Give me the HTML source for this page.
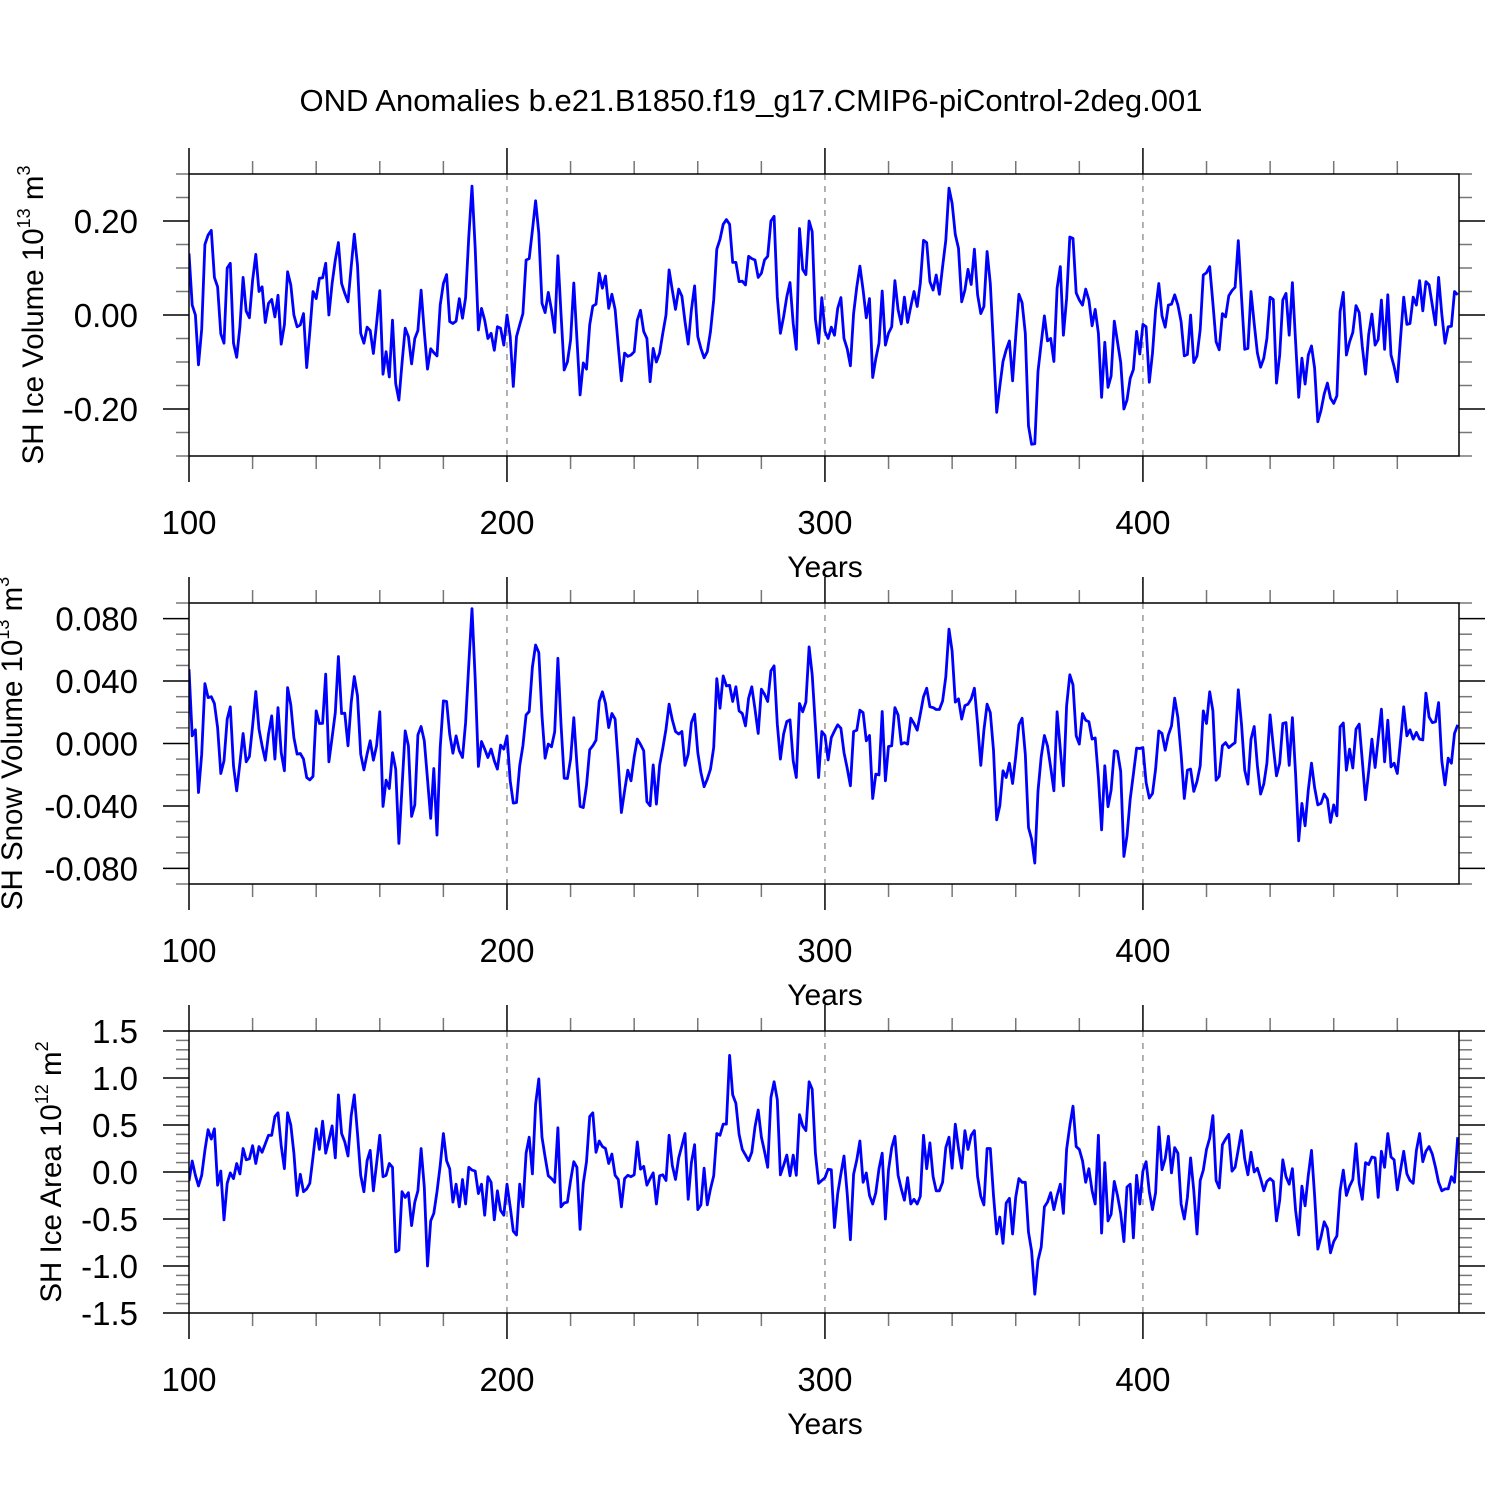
<!DOCTYPE html>
<html><head><meta charset="utf-8"><style>
html,body{margin:0;padding:0;background:#fff;}
svg{display:block;font-family:"Liberation Sans",Arial,sans-serif;}
</style></head><body>
<svg id="fig" width="1500" height="1500" viewBox="0 0 1500 1500" xmlns="http://www.w3.org/2000/svg">
<rect width="1500" height="1500" fill="#fff"/>
<text x="751" y="111" font-size="31" text-anchor="middle">OND Anomalies b.e21.B1850.f19_g17.CMIP6-piControl-2deg.001</text>
</svg>
<script>
const years0 = 100;
const xTickLabels = ["100","200","300","400"];
const xTickValues = [100,200,300,400];
const iceVolume = [0.131,0.021,0.0,-0.106,-0.03,0.15,0.17,0.18,0.08,0.06,-0.04,-0.06,0.10,0.11,-0.06,-0.09,-0.025,0.08,0.008,-0.006,0.074,0.129,0.05,0.06,-0.016,0.025,0.033,-0.004,0.042,-0.062,-0.021,0.092,0.064,0.0,-0.025,-0.021,0.003,-0.112,-0.036,0.05,0.035,0.078,0.079,0.11,0.0,0.067,0.117,0.154,0.067,0.046,0.028,0.103,0.172,0.106,-0.039,-0.06,-0.026,-0.033,-0.082,-0.018,0.052,-0.126,-0.078,-0.132,-0.011,-0.146,-0.181,-0.103,-0.028,-0.046,-0.104,-0.05,-0.033,0.053,-0.036,-0.115,-0.072,-0.08,-0.087,0.021,0.067,0.086,-0.014,-0.018,-0.013,0.035,-0.007,0.037,0.167,0.274,0.142,-0.032,0.014,-0.011,-0.05,-0.039,-0.075,-0.025,-0.028,-0.064,0.0,
-0.046,-0.152,-0.046,-0.021,0.003,0.117,0.12,0.18,0.243,0.174,0.025,0.005,0.048,0.011,-0.037,0.126,0.003,-0.117,-0.1,-0.053,0.068,-0.05,-0.17,-0.102,-0.115,-0.021,0.019,0.023,0.089,0.057,0.083,0.014,0.044,
0.012,-0.067,-0.14,-0.081,-0.088,-0.085,-0.078,-0.011,0.01,-0.035,-0.05,-0.142,-0.071,-0.1,-0.081,-0.039,0.0,0.096,0.053,0.012,0.055,0.04,-0.014,-0.062,0.011,0.062,-0.046,-0.071,-0.091,-0.078,-0.035,0.032,0.14,0.161,0.193,0.203,0.193,0.112,0.112,0.071,0.072,0.064,0.125,0.12,0.117,0.08,0.089,0.117,0.125,0.2,0.21,0.039,-0.039,-0.004,0.039,0.069,-0.018,-0.073,0.184,0.097,0.086,0.2,0.177,-0.009,-0.06,0.037,-0.035,-0.05,-0.026,-0.043,0.014,0.037,-0.05,-0.072,-0.108,0.003,0.06,0.104,0.053,-0.006,0.035,-0.133,-0.093,-0.06,0.051,-0.064,-0.039,-0.025,0.073,0.011,-0.019,0.038,-0.016,0.018,0.05,0.018,0.067,0.159,0.154,0.071,0.053,0.085,0.044,0.103,0.159,0.27,0.238,0.171,0.142,0.028,0.053,0.097,0.065,0.14,0.043,0.003,0.018,0.135,0.067,-0.067,-0.207,-0.152,-0.099,-0.074,-0.055,-0.14,-0.046,0.044,0.026,-0.039,-0.236,-0.275,-0.274,-0.12,
-0.06,-0.002,-0.055,-0.05,-0.099,0.057,0.103,-0.043,0.035,0.166,0.163,0.047,0.032,0.021,0.055,0.032,-0.023,0.012,-0.039,-0.175,-0.058,-0.154,-0.13,-0.013,-0.057,-0.101,-0.2,-0.181,-0.135,-0.116,-0.035,-0.083,-0.02,-0.025,-0.143,-0.081,0.011,0.067,-0.002,-0.026,0.021,0.023,0.043,0.021,-0.014,-0.087,-0.084,0.0,-0.101,-0.087,-0.031,0.085,0.09,0.103,0.025,-0.057,-0.074,0.003,-0.004,0.041,0.052,0.059,0.158,0.039,-0.073,-0.071,0.05,-0.018,-0.081,-0.111,-0.092,-0.05,0.038,0.033,-0.145,-0.085,0.032,0.046,-0.043,0.069,-0.057,-0.175,-0.092,-0.147,-0.085,-0.066,-0.113,-0.227,-0.203,-0.168,-0.145,-0.177,-0.188,-0.172,0.007,0.048,-0.085,-0.057,-0.037,0.02,0.005,-0.067,-0.126,-0.041,0.002,-0.064,-0.052,0.032,-0.073,0.043,-0.085,-0.11,-0.142,-0.05,0.038,-0.02,-0.018,0.038,0.021,0.073,0.009,0.071,0.064,0.021,-0.021,0.08,0.002,-0.06,-0.025,-0.024,0.05,0.043];
const snowVolume = [0.0476,0.0049,0.0088,-0.0314,-0.0068,0.0384,0.0294,0.030,0.0256,0.0102,-0.0192,-0.0111,0.0156,0.0235,-0.0143,-0.0303,-0.0126,0.0064,-0.0117,-0.0083,0.0113,0.0333,0.0092,-0.0015,-0.0107,0.006,0.0177,-0.010,0.023,-0.0058,-0.0175,0.0358,0.0247,0.0038,-0.0068,-0.0064,-0.010,-0.0218,-0.0233,-0.0211,0.0209,0.0128,0.0129,0.0444,-0.0117,0.0038,0.0198,0.0557,0.0192,0.0194,-0.0015,0.0262,0.0429,0.0305,-0.0068,-0.0169,-0.0068,0.0017,-0.0107,-0.0015,0.0203,-0.0403,-0.0235,-0.0288,-0.0058,-0.0164,-0.064,-0.0282,0.0081,-0.0015,-0.0467,-0.0393,0.0055,0.0109,0.0017,-0.0228,-0.048,-0.016,-0.0587,-0.0026,0.0273,0.0269,0.006,-0.0062,0.0049,-0.0047,-0.009,0.0134,0.0508,0.0864,0.0412,-0.0147,0.0013,-0.0036,-0.009,-0.0036,-0.0111,-0.0164,-0.0011,-0.0036,0.0049,
-0.0239,-0.0382,-0.0378,-0.0143,-0.0015,0.0183,0.0205,0.049,0.0631,0.0582,0.0177,-0.0094,-0.0004,-0.0021,0.0075,0.0546,0.0124,-0.0222,-0.0224,-0.010,0.0166,-0.0132,-0.0403,-0.041,-0.027,-0.004,-0.0015,0.0021,0.0269,0.0331,0.0256,0.0102,0.0192,
0.0156,-0.0132,-0.0442,-0.0303,-0.0171,-0.0239,-0.0085,0.0028,-0.0006,-0.0047,-0.0373,-0.0399,-0.0137,-0.0388,-0.014,-0.003,0.0092,0.0252,0.0152,0.0077,0.006,0.0077,-0.014,-0.0068,0.0134,0.0188,-0.0058,-0.0186,-0.0277,-0.0228,-0.0164,-0.0026,0.0416,0.0226,0.0433,0.0369,0.0373,0.0269,0.0363,0.0209,0.0192,0.0113,0.029,0.0363,0.022,0.0064,0.0348,0.0316,0.0269,0.0465,0.0497,0.0124,-0.010,0.006,0.0141,0.0152,-0.0111,-0.0218,0.0256,0.0203,0.0265,0.0619,0.044,0.0113,-0.0218,0.0077,0.0051,-0.0106,0.0038,0.0081,0.012,0.0098,-0.0058,-0.0158,-0.0271,0.0077,0.0085,0.0213,0.0198,0.0017,0.0051,-0.0352,-0.0196,-0.0201,0.0205,-0.0239,-0.0019,-0.0015,0.023,0.0183,-0.0004,0.0006,-0.0004,0.0162,0.0128,0.0085,0.0188,0.0299,0.0354,0.0235,0.023,0.0218,0.0218,0.0272,0.0427,0.0732,0.0593,0.0265,0.0286,0.0156,0.0243,0.0252,0.0286,0.0354,0.0124,-0.014,0.0085,0.0252,0.0198,-0.0043,-0.0489,-0.0399,-0.0175,-0.0218,-0.0126,-0.0256,-0.0085,0.012,0.0162,-0.0068,-0.0538,-0.0612,-0.0766,-0.0305,
-0.0085,0.0051,-0.0015,-0.0154,-0.0303,0.0203,-0.0036,-0.0271,0.0241,0.044,0.0376,0.0049,-0.0004,0.0192,0.0149,0.0139,0.0028,0.0036,-0.0218,-0.0553,-0.0143,-0.0405,-0.0299,-0.0047,-0.0051,-0.0179,-0.0723,-0.0591,-0.0356,-0.0196,-0.003,-0.0032,-0.0026,-0.025,-0.035,-0.032,-0.0164,0.0081,0.0064,-0.0043,0.0055,0.0113,0.029,0.0166,-0.0068,-0.0352,-0.0171,-0.0164,-0.0307,-0.0243,-0.0143,0.0209,0.0128,0.0331,0.0209,-0.0235,-0.0211,-0.0015,0.0006,-0.0026,-0.0009,0.0006,0.0344,0.0124,-0.0171,-0.026,0.0028,0.0109,-0.0143,-0.0324,-0.026,-0.0126,0.0183,-0.0021,-0.0207,-0.0126,0.0128,0.0134,-0.014,0.0166,-0.0196,-0.0623,-0.0384,-0.0527,-0.0297,-0.0126,-0.0282,-0.0393,-0.0384,-0.0324,-0.0356,-0.0506,-0.0393,-0.0463,0.0107,0.0131,-0.0171,-0.0036,-0.0157,0.0092,0.0124,-0.0111,-0.036,-0.0179,0.0028,-0.0154,0.0028,0.022,-0.0117,0.0149,-0.015,-0.0126,-0.0192,0.0017,0.0235,0.0049,0.0088,0.0028,0.0071,0.0028,0.0023,0.0322,0.0169,0.0134,0.0139,0.0262,-0.0111,-0.0265,-0.0094,-0.0126,0.0064,0.012];
const iceArea = [-0.096,0.117,-0.035,-0.149,-0.035,0.23,0.45,0.35,0.46,-0.14,0.01,-0.51,-0.12,-0.01,-0.07,0.09,-0.02,0.25,0.13,0.14,0.28,0.09,0.27,0.21,0.30,0.39,0.39,0.59,0.63,0.28,0.035,0.63,0.5,0.2,-0.25,-0.025,-0.21,-0.18,-0.12,0.16,0.46,0.24,0.54,0.2,0.34,0.49,0.15,0.82,0.41,0.32,0.17,0.6,0.82,0.41,-0.035,-0.21,0.12,0.23,-0.2,0.09,0.39,-0.05,-0.035,0.09,0.05,-0.85,-0.83,-0.21,-0.27,-0.22,-0.57,-0.32,-0.2,0.25,-0.16,-1.0,-0.52,-0.44,-0.21,0.07,0.41,0.12,0.035,-0.32,-0.13,-0.37,-0.08,-0.34,0.05,0.02,0.01,-0.23,-0.13,-0.46,-0.05,-0.11,-0.51,-0.2,-0.41,-0.46,-0.13,
-0.37,-0.63,-0.67,-0.13,-0.37,0.2,0.37,-0.02,0.72,0.99,0.37,0.16,-0.04,-0.07,-0.11,0.47,-0.37,-0.33,-0.32,-0.09,0.11,0.05,-0.61,-0.12,0.11,0.59,0.63,0.21,0.33,0.27,0.25,0.09,0.19,
-0.035,-0.08,-0.37,-0.07,-0.035,-0.05,-0.03,0.32,0.03,0.06,-0.14,-0.07,-0.01,-0.34,-0.04,-0.03,-0.09,0.39,0.07,-0.08,0.15,0.28,0.41,-0.29,0.1,0.29,-0.4,-0.35,0.04,-0.35,-0.18,-0.04,0.41,0.39,0.51,0.51,1.24,0.82,0.73,0.4,0.24,0.18,0.12,0.21,0.48,0.66,0.37,0.22,0.05,0.79,0.96,0.77,-0.03,0.07,0.18,-0.04,0.18,-0.035,0.61,0.49,0.44,0.96,0.88,0.2,-0.12,-0.09,-0.06,0.03,0.025,-0.59,-0.23,-0.02,0.17,-0.23,-0.72,-0.025,0.13,0.33,-0.11,-0.01,-0.25,-0.34,-0.22,0.035,0.2,-0.5,0.02,0.26,0.38,-0.035,-0.18,-0.3,-0.06,-0.34,-0.29,-0.34,-0.26,0.39,0.035,0.31,-0.05,-0.2,-0.2,-0.11,0.26,0.37,0.04,0.51,0.25,0.04,0.44,0.24,0.39,0.44,-0.05,-0.26,-0.35,0.25,0.25,-0.25,-0.66,-0.48,-0.76,-0.33,-0.28,-0.66,-0.27,-0.07,-0.11,-0.11,-0.64,-0.84,-1.3,-0.94,
-0.8,-0.37,-0.32,-0.22,-0.4,-0.25,-0.13,-0.44,0.24,0.49,0.7,0.27,0.24,0.12,-0.11,0.035,-0.2,-0.34,0.39,-0.65,0.1,-0.52,-0.45,-0.1,-0.25,-0.44,-0.74,-0.16,-0.13,-0.7,-0.035,-0.34,0.01,0.11,-0.21,-0.4,-0.22,0.48,0.025,0.14,0.38,-0.01,0.26,0.2,-0.34,-0.5,-0.27,0.15,-0.2,-0.66,-0.09,0.02,0.24,0.36,0.6,-0.09,-0.17,0.29,0.35,0.4,0.01,0.05,0.24,0.44,0.14,-0.03,0.21,0.0,0.04,-0.07,-0.2,-0.1,-0.07,-0.1,-0.52,-0.3,0.13,-0.05,-0.13,0.035,-0.41,-0.67,-0.15,-0.36,-0.035,0.23,-0.25,-0.82,-0.69,-0.53,-0.6,-0.86,-0.74,-0.68,-0.2,0.02,-0.25,-0.15,-0.08,0.3,-0.12,-0.29,0.1,0.08,0.16,0.15,-0.27,0.22,0.05,0.41,0.16,0.13,-0.19,0.02,0.22,-0.02,-0.09,-0.12,0.23,0.41,0.11,0.22,0.27,0.19,0.05,-0.11,-0.2,-0.18,-0.18,-0.05,-0.11,0.37];
const p1Ticks = [0.2,0.0,-0.2];
const p1Labels = ["0.20","0.00","-0.20"];
const p2Ticks = [0.08,0.04,0.0,-0.04,-0.08];
const p2Labels = ["0.080","0.040","0.000","-0.040","-0.080"];
const p3Ticks = [1.5,1.0,0.5,0.0,-0.5,-1.0,-1.5];
const p3Labels = ["1.5","1.0","0.5","0.0","-0.5","-1.0","-1.5"];

const NS = "http://www.w3.org/2000/svg";
const svg = document.getElementById('fig');
const X0 = 189, X1 = 1459, XMIN = 100, XMAX = 499.4;
function xs(v){ return X0 + (v - XMIN) * (X1 - X0) / (XMAX - XMIN); }
function mk(tag, attrs, parent){
  const e = document.createElementNS(NS, tag);
  for (const k in attrs) e.setAttribute(k, attrs[k]);
  (parent || svg).appendChild(e);
  return e;
}

function panel(key, top, bottom, ymin, ymax, data, ticks, labels, minorStep, titleParts, titleX){
  const g = mk('g', {});
  
  
  const ys = v => bottom - (v - ymin) * (bottom - top) / (ymax - ymin);
  [200,300,400].forEach(v => {
    const l = mk('line', {x1:xs(v), x2:xs(v), y1:top, y2:bottom, stroke:'#888', 'stroke-width':1.3, 'stroke-dasharray':'6,6'}, g);
    
    
  });
  for (let v = 100; v <= 480; v += 20) {
    const major = v % 100 === 0;
    const len = major ? 26 : 13;
    mk('line', {x1:xs(v), x2:xs(v), y1:top, y2:top - len, stroke:major?'#000':'#777', 'stroke-width':1.5}, g);
    mk('line', {x1:xs(v), x2:xs(v), y1:bottom, y2:bottom + len, stroke:major?'#000':'#777', 'stroke-width':1.5}, g);
  }
  const nMin = Math.round((ymax - ymin) / minorStep);
  for (let i = 0; i <= nMin; i++) {
    const v = ymin + i * minorStep;
    const isMajor = ticks.some(t => Math.abs(t - v) < minorStep / 10);
    const len = isMajor ? 26 : 13;
    mk('line', {x1:X0, x2:X0 - len, y1:ys(v), y2:ys(v), stroke:isMajor?'#000':'#777', 'stroke-width':1.5}, g);
    mk('line', {x1:X1, x2:X1 + len, y1:ys(v), y2:ys(v), stroke:isMajor?'#000':'#777', 'stroke-width':1.5}, g);
  }
  ticks.forEach((t, i) => {
    const tx = mk('text', {x:138, y:ys(t) + 12, 'font-size':33, 'text-anchor':'end'}, g);
    tx.textContent = labels[i];
    
    
  });
  xTickValues.forEach((v, i) => {
    const tx = mk('text', {x:xs(v), y:bottom + 78, 'font-size':33, 'text-anchor':'middle'}, g);
    tx.textContent = xTickLabels[i];
    
    
  });
  const xt = mk('text', {x:825, y:bottom + 121, 'font-size':30, 'text-anchor':'middle'}, g);
  xt.textContent = 'Years';
  
  
  const cy = (top + bottom) / 2;
  const yt = mk('text', {x:0, y:0, 'font-size':29.5, 'text-anchor':'middle', transform:'translate(' + titleX + ',' + cy + ') rotate(-90)'}, g);
  
  
  const t1 = mk('tspan', {}, yt); t1.textContent = titleParts[0] + ' 10';
  const t2 = mk('tspan', {dy:-13, 'font-size':18}, yt); t2.textContent = titleParts[1];
  const t3 = mk('tspan', {dy:13}, yt); t3.textContent = ' m';
  const t4 = mk('tspan', {dy:-13, 'font-size':18}, yt); t4.textContent = titleParts[2];
  const clipId = 'clip-' + key;
  const cp = mk('clipPath', {id:clipId}, g);
  mk('rect', {x:X0, y:top, width:X1 - X0, height:bottom - top}, cp);
  const pts = data.map((v, i) => xs(years0 + i).toFixed(1) + ',' + ys(v).toFixed(1)).join(' ');
  const pl = mk('polyline', {points:pts, fill:'none', stroke:'#0000ff', 'stroke-width':2.8, 'stroke-linejoin':'round', 'clip-path':'url(#' + clipId + ')'}, g);
  
  
  const fr = mk('rect', {x:X0, y:top, width:X1 - X0, height:bottom - top, fill:'none', stroke:'#000', 'stroke-width':1.5}, g);
  
  
}

panel('ice-volume', 174, 456, -0.3, 0.3, iceVolume, p1Ticks, p1Labels, 0.05, ['SH Ice Volume','13','3'], 43);
panel('snow-volume', 603, 884, -0.09, 0.09, snowVolume, p2Ticks, p2Labels, 0.01, ['SH Snow Volume','13','3'], 22);
panel('ice-area', 1031, 1313, -1.5, 1.5, iceArea, p3Ticks, p3Labels, 0.1, ['SH Ice Area','12','2'], 61);
</script>
</body></html>
